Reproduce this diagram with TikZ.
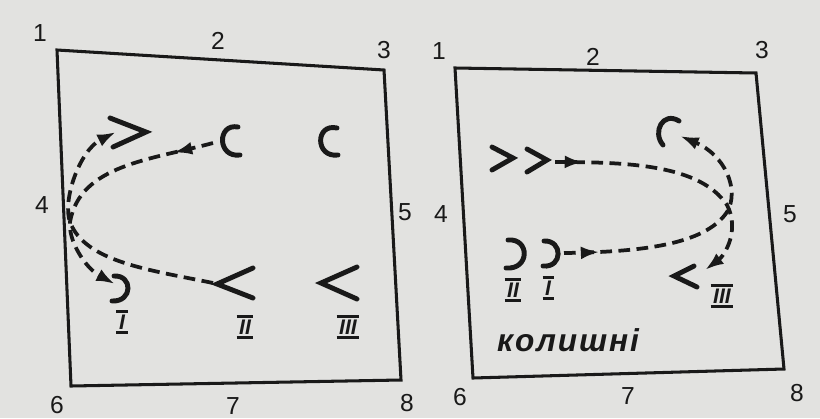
\documentclass[tikz,border=0pt]{standalone}
\usepackage{fontspec}
\setmainfont{Liberation Sans}
\usetikzlibrary{arrows.meta,decorations.markings}
\definecolor{paper}{RGB}{226,226,224}
\definecolor{ink}{RGB}{25,25,25}
\newcommand\romlab[3]{%
  \node[rn] (#1) at (#2) {#3};
  \draw[bar] (#1.north west) -- (#1.north east);
  \draw[bar] (#1.south west) -- (#1.south east);}
\begin{document}
\begin{tikzpicture}[x=0.03cm,y=-0.03cm,
  wall/.style={draw=ink,line width=2.6pt,line join=miter},
  sym/.style={draw=ink,line width=4.2pt,line cap=round,line join=miter},
  track/.style={draw=ink,line width=3.2pt,dash pattern=on 10pt off 5.5pt,
     -{Latex[length=16pt,width=11pt]}},
  midarrow/.style={postaction={decorate},decoration={markings,
     mark=at position #1 with {\arrow{Latex[length=16pt,width=11pt]}}}},
  num/.style={text=ink,font=\fontsize{21}{21}\selectfont,inner sep=0pt},
  rn/.style={text=ink,font=\itshape\bfseries\fontsize{18}{18}\selectfont,
     inner xsep=2pt,inner ysep=2.5pt,text height=13pt,text depth=0pt},
  bar/.style={draw=ink,line width=2.6pt}]
\fill[paper] (0,0) rectangle (820,418);
\useasboundingbox (0,0) rectangle (820,418);
% ---------- left box ----------
\coordinate (L1) at (57,50); \coordinate (L3) at (384,70);
\coordinate (L8) at (401,380); \coordinate (L6) at (71,386);
\draw[wall] (L1) -- (L3) -- (L8) -- (L6) -- cycle;
\node[num] (nl1) at (40,33) {1};
\node[num] (nl2) at (218,41) {2};
\node[num] (nl3) at (384,50) {3};
\node[num] (nl4) at (42,205) {4};
\node[num] (nl5) at (405,212) {5};
\node[num] (nl6) at (57,405) {6};
\node[num] (nl7) at (233,406) {7};
\node[num] (nl8) at (407,403) {8};
% symbols
\draw[sym] (110,118) -- (146,132) -- (113,147);
\draw[sym] (238,127) .. controls (217,123) and (217,158) .. (240,155);
\draw[sym] (337,128) .. controls (315,123) and (315,158) .. (338,155);
\draw[sym] (114,276) .. controls (133,275) and (133,302) .. (112,301);
\draw[sym] (253,268) -- (217,284) -- (253,298);
\draw[sym] (357,267) -- (321,283) -- (357,299);
\romlab{lI}{122,322}{I}
\romlab{lII}{245,327}{II}
\romlab{lIII}{348,327}{III}
% tracks
\coordinate (aS) at (213,143); \coordinate (aW) at (70,222); \coordinate (aE) at (115,284);
\coordinate (bS) at (213,283); \coordinate (bE) at (116,132);
\draw[track,midarrow=0.16] (aS) .. controls (150,160) and (80,165) .. (aW)
      .. controls (68,240) and (85,268) .. (aE);
\draw[track] (bS) .. controls (150,270) and (85,262) .. (aW)
      .. controls (62,200) and (80,150) .. (bE);
% ---------- right box ----------
\coordinate (R1) at (455,68); \coordinate (R3) at (756,73);
\coordinate (R8) at (784,369); \coordinate (R6) at (473,378);
\draw[wall] (R1) -- (R3) -- (R8) -- (R6) -- cycle;
\node[num] (nr1) at (439,51) {1};
\node[num] (nr2) at (593,57) {2};
\node[num] (nr3) at (762,50) {3};
\node[num] (nr4) at (441,214) {4};
\node[num] (nr5) at (790,214) {5};
\node[num] (nr6) at (460,397) {6};
\node[num] (nr7) at (628,396) {7};
\node[num] (nr8) at (797,393) {8};
% symbols
\draw[sym] (492,147) -- (513,158) -- (492,170);
\draw[sym] (527,149) -- (547,160) -- (527,172);
\draw[sym] (508,240) .. controls (530,238) and (530,270) .. (506,268);
\draw[sym] (544,241) .. controls (563,240) and (563,268) .. (543,266);
\draw[sym] (679,121) .. controls (663,111) and (652,132) .. (663,145);
\draw[sym] (694,266) -- (674,276) -- (697,287);
\romlab{rII}{513,290}{II}
\romlab{rI}{548,288}{I}
\romlab{rIII}{722,296}{III}
% tracks
\coordinate (cS) at (555,162); \coordinate (cM) at (727,205); \coordinate (cE) at (705,270);
\coordinate (dS) at (564,253); \coordinate (dM) at (727,212); \coordinate (dE) at (680,136);
\draw[track,midarrow=0.11] (cS) .. controls (630,162) and (700,165) .. (cM)
      .. controls (740,230) and (725,255) .. (cE);
\draw[track,midarrow=0.13] (dS) .. controls (640,252) and (705,245) .. (dM)
      .. controls (740,190) and (725,155) .. (dE);
\node[text=ink,font=\bfseries\itshape\fontsize{27}{27}\selectfont\addfontfeature{LetterSpace=6}]
  (old) at (568,340) {колишні};
\end{tikzpicture}
\end{document}
